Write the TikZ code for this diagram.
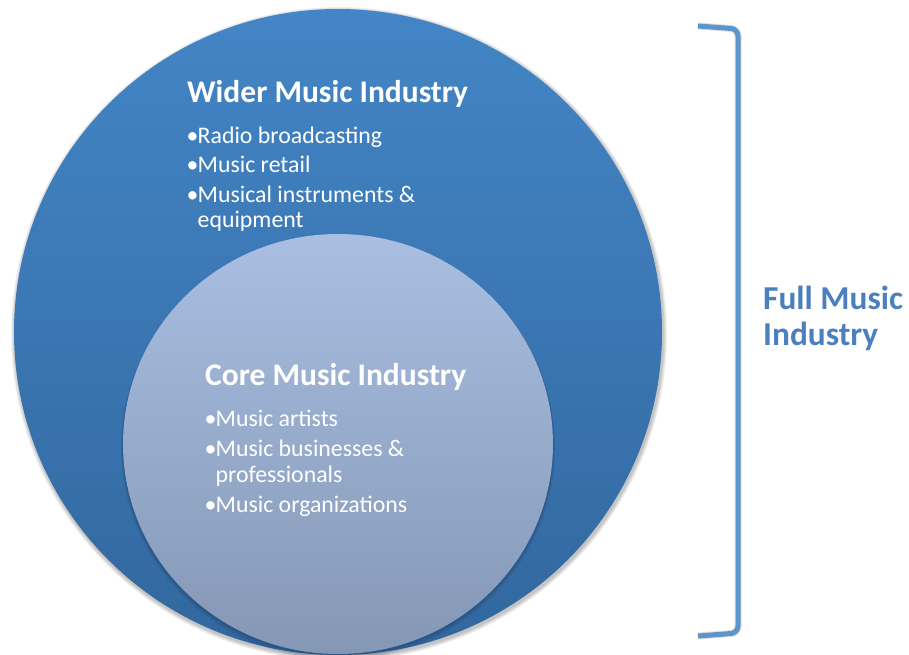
\documentclass[tikz,border=0pt]{standalone}
\usepackage{fontspec}
\setmainfont{Carlito}
\usetikzlibrary{shapes.geometric}

\definecolor{outerTop}{RGB}{67,133,198}
\definecolor{outerBot}{RGB}{50,103,158}
\definecolor{innerTop}{RGB}{169,190,225}
\definecolor{innerBot}{RGB}{132,151,181}
\definecolor{bracketBlue}{RGB}{92,148,204}
\definecolor{labelBlue}{RGB}{76,127,190}
\definecolor{rimShade}{RGB}{30,60,100}

\newcommand\bul{\makebox[11bp][l]{•}}
\newcommand\cont{\hspace*{11bp}}

\begin{document}
\begin{tikzpicture}[x=1bp,y=-1bp,
  disc/.style={ellipse, inner sep=0pt, draw=none},
  heading/.style={anchor=base west, inner sep=0pt, text=white,
    font=\fontsize{31.5bp}{36bp}\selectfont\bfseries},
  entry/.style={anchor=base west, inner sep=0pt, text=white,
    font=\fontsize{23.8bp}{26bp}\selectfont},
  sidelabel/.style={anchor=base west, inner sep=0pt, text=labelBlue,
    font=\fontsize{33.4bp}{36bp}\selectfont\bfseries},
  bracketline/.style={draw=bracketBlue, line width=5bp, rounded corners=7bp},
  bracketshade/.style={draw=black, opacity=0.12, line width=7bp, rounded corners=7bp}]

  \useasboundingbox (0,0) rectangle (909,655);
  \clip (0,0) rectangle (909,655);

  % soft shadow round the outer disc
  \foreach \i in {1,...,5}
    \fill[black, opacity=0.05] (339,334) ellipse [x radius={324+\i*0.8}, y radius={323+\i*0.8}];

  % outer disc: wider music industry
  \node[disc, minimum width=648bp, minimum height=646bp,
        top color=outerTop, bottom color=outerBot] (outer) at (338,332) {};

  % darker rim under the inner disc
  \foreach \i in {1,...,4}
    \fill[rimShade, opacity=0.12] (338,{444+\i*0.9}) ellipse [x radius={215+\i*0.5}, y radius={210+\i*0.5}];

  % inner disc: core music industry
  \node[disc, minimum width=430bp, minimum height=420bp,
        top color=innerTop, bottom color=innerBot] (inner) at (338,444) {};

  % wider industry text
  \node[heading] (wideT) at (187,103) {Wider Music Industry};
  \node[entry] (w1) at (186.5,144) {\bul Radio broadcasting};
  \node[entry] (w2) at (186.5,173) {\bul Music retail};
  \node[entry] (w3) at (186.5,202) {\bul Musical instruments \&};
  \node[entry] (w4) at (186.5,227) {\cont equipment};

  % core industry text
  \node[heading] (coreT) at (205,385) {Core Music Industry};
  \node[entry] (c1) at (204.5,426) {\bul Music artists};
  \node[entry] (c2) at (204.5,456) {\bul Music businesses \&};
  \node[entry] (c3) at (204.5,482) {\cont professionals};
  \node[entry] (c4) at (204.5,512) {\bul Music organizations};

  % bracket spanning the whole industry
  \coordinate (bTop) at (698,26);
  \coordinate (bTopC) at (738,29);
  \coordinate (bBotC) at (738,633);
  \coordinate (bBot) at (698,636);
  \begin{scope}[shift={(2,2.5)}]
    \draw[bracketshade] (bTop) -- (bTopC) -- (bBotC) -- (bBot);
  \end{scope}
  \draw[bracketline] (bTop) -- (bTopC) -- (bBotC) -- (bBot);

  \node[sidelabel] (full1) at (763,309) {Full Music};
  \node[sidelabel] (full2) at (763,345) {Industry};
\end{tikzpicture}
\end{document}
